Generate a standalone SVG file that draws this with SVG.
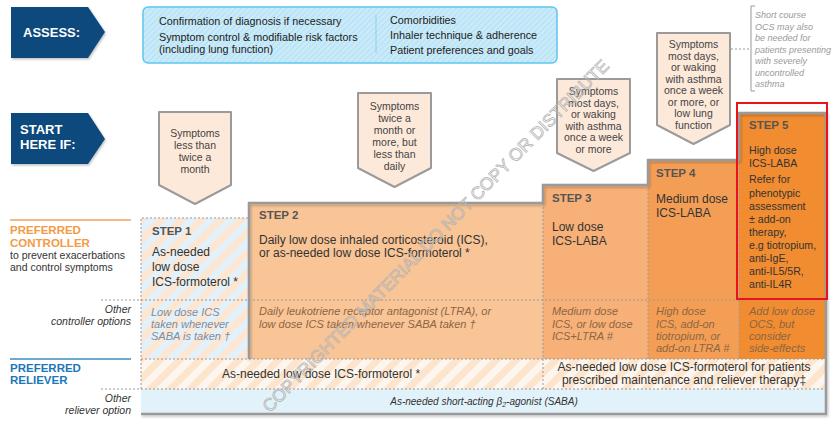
<svg xmlns="http://www.w3.org/2000/svg" width="837" height="426" viewBox="0 0 837 426">
<defs>
<style>
text{font-family:"Liberation Sans",Arial,sans-serif;}
.chev{fill:#0e4a7d;}
.chevt{fill:#fff;font-weight:bold;font-size:13px;}
.as{font-size:10.8px;fill:#222;}
.sym{fill:#fde9da;stroke:#9a9a9a;stroke-width:2;stroke-linejoin:round;}
.symt{font-size:10.5px;fill:#444;text-anchor:middle;}
.stl{font-size:11.5px;font-weight:bold;fill:#555;}
.st{font-size:12px;fill:#333;}
.s5{font-size:10.6px;fill:#333;}
.oc{font-size:11px;font-style:italic;fill:#8c6644;}
.oc1{font-size:11px;font-style:italic;fill:#7d8ca0;}
.lab{font-size:10.5px;fill:#333;}
.labi{font-size:10.5px;fill:#333;font-style:italic;text-anchor:end;}
.dot{stroke:#999;stroke-width:1;stroke-dasharray:2,2;fill:none;}
.note{font-size:9px;font-style:italic;fill:#9a9a9a;}
</style>
<pattern id="hatch" width="14" height="14" patternUnits="userSpaceOnUse" patternTransform="rotate(45)">
<rect width="14" height="14" fill="#e2f1fa"/>
<rect width="7" height="14" fill="#fde6d2"/>
</pattern>
<pattern id="hatch2" width="14" height="14" patternUnits="userSpaceOnUse" patternTransform="rotate(45)">
<rect width="14" height="14" fill="#fdf6ee"/>
<rect width="7" height="14" fill="#fde4cc"/>
</pattern>
<pattern id="hatchb" width="4" height="4" patternUnits="userSpaceOnUse" patternTransform="rotate(45)">
<rect width="4" height="4" fill="#c9eaf8"/>
<rect width="1" height="4" fill="#b3e0f4"/>
</pattern>
<filter id="sh" x="-5%" y="-5%" width="110%" height="110%">
<feDropShadow dx="1" dy="1.5" stdDeviation="1" flood-color="#000" flood-opacity="0.25"/>
</filter>
</defs>
<rect width="837" height="426" fill="#fff"/>

<g id="assess-label">
<polygon class="chev" points="11,7 88,7 105,32 88,58 11,58" filter="url(#sh)"/>
<text class="chevt" x="23" y="37">ASSESS:</text>
</g>
<g id="assess-box">
<rect x="143" y="7" width="414" height="56" rx="5" fill="url(#hatchb)" stroke="#5cc6f0" stroke-width="1.5"/>
<line x1="376" y1="15" x2="376" y2="53" stroke="#8fcfe8" stroke-width="1"/>
<text class="as" x="159" y="25">Confirmation of diagnosis if necessary</text>
<text class="as" x="159" y="41">Symptom control &amp; modifiable risk factors</text>
<text class="as" x="159" y="53">(including lung function)</text>
<text class="as" x="390" y="24">Comorbidities</text>
<text class="as" x="390" y="39">Inhaler technique &amp; adherence</text>
<text class="as" x="390" y="54">Patient preferences and goals</text>
</g>
<g id="start-label">
<polygon class="chev" points="11,113 88,113 105,139 88,164 11,164" filter="url(#sh)"/>
<text class="chevt" x="20" y="134">START</text>
<text class="chevt" x="20" y="149">HERE IF:</text>
</g>

<g id="ocs-note">
<path d="M755,6 H751 V91 H755" fill="none" stroke="#999" stroke-width="1"/>
<text class="note" x="755" y="18">Short course</text>
<text class="note" x="755" y="30">OCS may also</text>
<text class="note" x="755" y="41">be needed for</text>
<text class="note" x="755" y="53">patients presenting</text>
<text class="note" x="755" y="64">with severely</text>
<text class="note" x="755" y="76">uncontrolled</text>
<text class="note" x="755" y="87">asthma</text>
</g>

<g id="sym1">
<path class="sym" d="M159,112 H231 V185 L195,204 L159,185 Z"/>
<text class="symt" x="195" y="137">Symptoms</text>
<text class="symt" x="195" y="149">less than</text>
<text class="symt" x="195" y="161">twice a</text>
<text class="symt" x="195" y="173">month</text>
</g>
<g id="sym2">
<path class="sym" d="M358,93 H431 V168 L394.5,187 L358,168 Z"/>
<text class="symt" x="394.5" y="110">Symptoms</text>
<text class="symt" x="394.5" y="122">twice a</text>
<text class="symt" x="394.5" y="134">month or</text>
<text class="symt" x="394.5" y="146">more, but</text>
<text class="symt" x="394.5" y="158">less than</text>
<text class="symt" x="394.5" y="170">daily</text>
</g>
<g id="sym3">
<path class="sym" d="M557,79 H630 V153 L593.5,171 L557,153 Z"/>
<text class="symt" x="593.5" y="95">Symptoms</text>
<text class="symt" x="593.5" y="107">most days,</text>
<text class="symt" x="593.5" y="118">or waking</text>
<text class="symt" x="593.5" y="130">with asthma</text>
<text class="symt" x="593.5" y="141">once a week</text>
<text class="symt" x="593.5" y="153">or more</text>
</g>
<g id="sym4">
<path class="sym" d="M657,33 H730 V125 L693.5,144 L657,125 Z"/>
<text class="symt" x="693.5" y="48">Symptoms</text>
<text class="symt" x="693.5" y="60">most days,</text>
<text class="symt" x="693.5" y="71">or waking</text>
<text class="symt" x="693.5" y="83">with asthma</text>
<text class="symt" x="693.5" y="94">once a week</text>
<text class="symt" x="693.5" y="106">or more, or</text>
<text class="symt" x="693.5" y="117">low lung</text>
<text class="symt" x="693.5" y="129">function</text>
</g>

<g id="connectors">
<line x1="731" y1="49" x2="750" y2="49" class="dot"/>
</g>

<g id="row-labels">
<line x1="10" y1="220" x2="131" y2="220" stroke="#f5a25a" stroke-width="1.5"/>
<text x="10" y="234" font-size="11.5" font-weight="bold" fill="#f39a45">PREFERRED</text>
<text x="10" y="247" font-size="11.5" font-weight="bold" fill="#f39a45">CONTROLLER</text>
<text class="lab" x="10" y="259">to prevent exacerbations</text>
<text class="lab" x="10" y="271">and control symptoms</text>
<text class="labi" x="131" y="313">Other</text>
<text class="labi" x="131" y="325">controller options</text>
<line x1="10" y1="359" x2="131" y2="359" stroke="#3a8fc4" stroke-width="1.5"/>
<text x="10" y="372" font-size="11.5" font-weight="bold" fill="#1c77b8">PREFERRED</text>
<text x="10" y="384" font-size="11.5" font-weight="bold" fill="#1c77b8">RELIEVER</text>
<text class="labi" x="131" y="402">Other</text>
<text class="labi" x="131" y="414">reliever option</text>
</g>

<g id="bands">
<rect x="141" y="218" width="108" height="141" fill="url(#hatch)"/>
<rect x="141" y="359" width="685" height="30" fill="url(#hatch2)"/>
<rect x="141" y="389" width="685" height="25" fill="#e2f2fb"/>
</g>

<g id="step2"><rect x="249" y="203" width="294" height="156" fill="#f9c496"/></g>
<g id="step3"><rect x="543" y="185" width="105" height="174" fill="#f7b077"/></g>
<g id="step4"><rect x="648" y="160" width="91" height="199" fill="#f49e55"/></g>
<g id="step5"><rect x="739" y="113" width="87" height="246" fill="#f18c30"/></g>

<g id="outline">
<path d="M249,359 V203 H543 V185 H648 V160 H739 V113 H826 V414 H141" fill="none" stroke="#9a9a9a" stroke-width="2.5" filter="url(#sh)"/>
<path d="M141,389 V218 H249" class="dot" stroke-width="1.5"/>
<line x1="101" y1="300" x2="826" y2="300" class="dot"/>
<line x1="141" y1="359" x2="826" y2="359" class="dot"/>
<line x1="101" y1="389" x2="826" y2="389" class="dot"/>
<line x1="648" y1="185" x2="648" y2="359" class="dot"/>
<line x1="739" y1="160" x2="739" y2="359" class="dot"/>
<line x1="543" y1="203" x2="543" y2="389" class="dot"/>
</g>

<g id="step1-text">
<text class="stl" x="152" y="235">STEP 1</text>
<text class="st" x="152" y="256" font-size="12.5">As-needed</text>
<text class="st" x="152" y="271" font-size="12.5">low dose</text>
<text class="st" x="152" y="286" font-size="12.5">ICS-formoterol *</text>
<text class="oc1" x="151" y="316">Low dose ICS</text>
<text class="oc1" x="151" y="328">taken whenever</text>
<text class="oc1" x="151" y="340">SABA is taken †</text>
</g>
<g id="step2-text">
<text class="stl" x="259" y="219">STEP 2</text>
<text class="st" x="259" y="244" font-size="12.4">Daily low dose inhaled corticosteroid (ICS),</text>
<text class="st" x="259" y="257" font-size="12.4">or as-needed low dose ICS-formoterol *</text>
<text class="oc" x="259" y="315">Daily leukotriene receptor antagonist (LTRA), or</text>
<text class="oc" x="259" y="328">low dose ICS taken whenever SABA taken †</text>
</g>
<g id="step3-text">
<text class="stl" x="552" y="202">STEP 3</text>
<text class="st" x="552" y="231" font-size="12.5">Low dose</text>
<text class="st" x="552" y="245" font-size="12.5">ICS-LABA</text>
<text class="oc" x="552" y="315">Medium dose</text>
<text class="oc" x="552" y="328">ICS, or low dose</text>
<text class="oc" x="552" y="340">ICS+LTRA #</text>
</g>
<g id="step4-text">
<text class="stl" x="656" y="177">STEP 4</text>
<text class="st" x="656" y="203" font-size="12.5">Medium dose</text>
<text class="st" x="656" y="217" font-size="12.5">ICS-LABA</text>
<text class="oc" x="656" y="315">High dose</text>
<text class="oc" x="656" y="328">ICS, add-on</text>
<text class="oc" x="656" y="340">tiotropium, or</text>
<text class="oc" x="656" y="352">add-on LTRA #</text>
</g>
<g id="step5-text">
<text class="stl" x="749" y="129">STEP 5</text>
<text class="s5" x="749" y="154">High dose</text>
<text class="s5" x="749" y="167">ICS-LABA</text>
<text class="s5" x="749" y="183">Refer for</text>
<text class="s5" x="749" y="197">phenotypic</text>
<text class="s5" x="749" y="210">assessment</text>
<text class="s5" x="749" y="223">± add-on</text>
<text class="s5" x="749" y="236">therapy,</text>
<text class="s5" x="749" y="249">e.g tiotropium,</text>
<text class="s5" x="749" y="262">anti-IgE,</text>
<text class="s5" x="749" y="275">anti-IL5/5R,</text>
<text class="s5" x="749" y="288">anti-IL4R</text>
<text class="oc" x="749" y="315" fill="#8a5a30">Add low dose</text>
<text class="oc" x="749" y="328" fill="#8a5a30">OCS, but</text>
<text class="oc" x="749" y="340" fill="#8a5a30">consider</text>
<text class="oc" x="749" y="352" fill="#8a5a30">side-effects</text>
</g>
<g id="reliever-text">
<text class="st" x="321" y="378" text-anchor="middle" font-size="12.6">As-needed low dose ICS-formoterol *</text>
<text class="st" x="684" y="371" text-anchor="middle" font-size="12.7">As-needed low dose ICS-formoterol  for patients</text>
<text class="st" x="684" y="384" text-anchor="middle" font-size="12.7">prescribed maintenance and reliever therapy‡</text>
<text x="484" y="405" text-anchor="middle" font-size="10" font-style="italic" fill="#333">As-needed short-acting β<tspan font-size="7" dy="2">2</tspan><tspan dy="-2">-agonist (SABA)</tspan></text>
</g>

<g id="highlight">
<rect x="737" y="103" width="90" height="196" fill="none" stroke="#e8141a" stroke-width="2"/>
</g>

<g id="watermark">
<text x="440" y="240" font-size="17.5" fill="none" stroke="#b5b5b5" stroke-width="0.8" text-anchor="middle" transform="rotate(-45.5 440 240)">COPYRIGHTED MATERIAL DO NOT COPY OR DISTRIBUTE</text>
</g>
</svg>
